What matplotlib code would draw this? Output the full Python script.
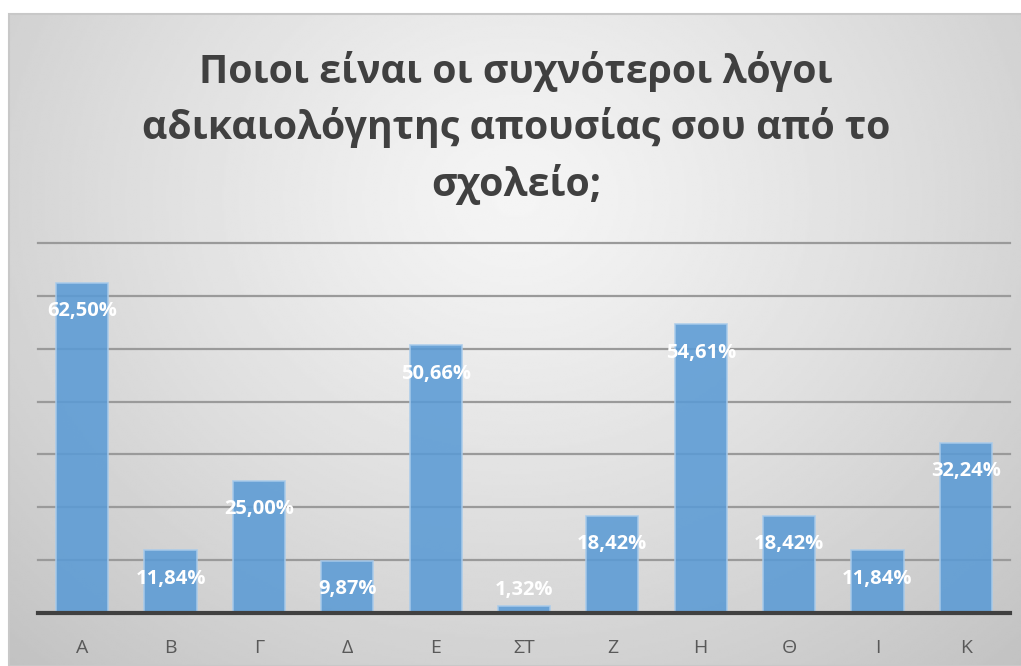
import numpy as np
import matplotlib.pyplot as plt
from matplotlib.patches import Rectangle

categories = ["Α", "Β", "Γ", "Δ", "Ε", "ΣΤ", "Ζ", "Η", "Θ", "Ι", "Κ"]
values = [62.50, 11.84, 25.00, 9.87, 50.66, 1.32, 18.42, 54.61, 18.42, 11.84, 32.24]
title = "Ποιοι είναι οι συχνότεροι λόγοι\nαδικαιολόγητης απουσίας σου από το\nσχολείο;"

plt.rcParams['font.family'] = ['Open Sans', 'DejaVu Sans']

W, H = 1021, 666
fig = plt.figure(figsize=(W / 100, H / 100), dpi=100)
fig.patch.set_facecolor("white")

# background panel with radial gradient
bg = fig.add_axes([9 / W, 0, (W - 9) / W, (H - 14) / H])
bg.set_axis_off()
ny, nx = 300, 460
yy, xx = np.mgrid[0:ny, 0:nx]
cx, cy = nx * 0.5, ny * 0.28
r = np.sqrt(((xx - cx) / nx) ** 2 + ((yy - cy) / ny * 0.75) ** 2)
r = r / r.max()
shade = 0.96 - 0.2 * r ** 1.2
bg.imshow(shade, cmap="gray", vmin=0, vmax=1, aspect="auto",
          extent=[0, 1, 0, 1], origin="upper", interpolation="bilinear")
bg.set_xlim(0, 1)
bg.set_ylim(0, 1)
bg.add_patch(Rectangle((0, 0), 1.2, 1, fill=False, edgecolor="#c8c8c8",
                       linewidth=1.5, transform=bg.transAxes, clip_on=False))

fig.text(516 / W, 1 - 128 / H, title, ha="center", va="center",
         fontsize=28.3, fontweight="bold", color="#404040", linespacing=1.47)

ax = fig.add_axes([38 / W, (H - 613) / H, (1010 - 38) / W, (613 - 243) / H])
ax.patch.set_alpha(0)
x = np.arange(len(categories))
ax.bar(x, values, width=0.59, color="#5B9BD5", alpha=0.88,
       edgecolor="#a8cbeb", linewidth=1.2, zorder=3)

ax.set_xlim(-0.5, len(categories) - 0.5)
ax.set_ylim(0, 70)
ax.set_yticks(np.arange(10, 71, 10))
ax.yaxis.grid(True, color="#9a9a9a", linewidth=1.6, zorder=1)
for gl in ax.get_ygridlines():
    gl.set_clip_on(False)
ax.set_axisbelow(True)
ax.tick_params(axis="y", left=False, labelleft=False)
ax.set_xticks(x)
ax.set_xticklabels(categories, fontsize=14, color="#595959")
ax.tick_params(axis="x", length=0, pad=19)
for s in ["left", "right", "top"]:
    ax.spines[s].set_visible(False)
ax.spines["bottom"].set_color("#404040")
ax.spines["bottom"].set_linewidth(3)
ax.spines["bottom"].set_zorder(5)

for xi, v in zip(x, values):
    ly = max(v - 5.4, 4.35)
    ax.text(xi, ly, ("%.2f%%" % v).replace(".", ","), ha="center", va="center",
            fontsize=14.5, fontweight="bold", color="white", zorder=6)

fig.savefig("out.png", dpi=100)
